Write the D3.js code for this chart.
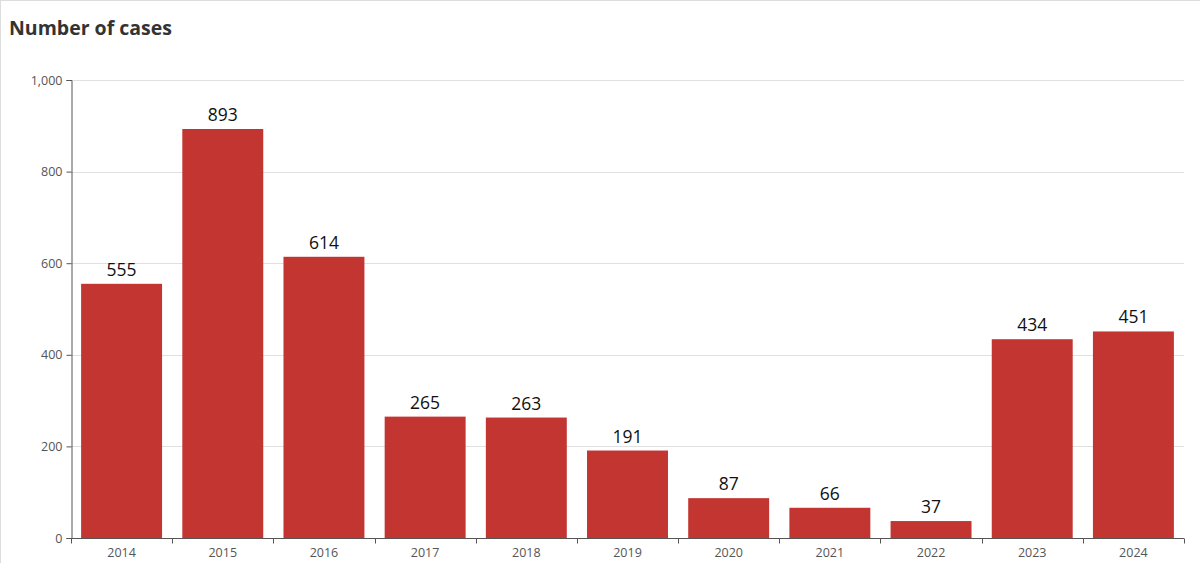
<!DOCTYPE html>
<html><head><meta charset="utf-8">
<script src="https://cdn.jsdelivr.net/npm/d3@7/dist/d3.min.js"></script>
<style>
html,body{margin:0;padding:0;background:#fff;}
svg{display:block;}
</style></head>
<body>
<svg id="chart" width="1200" height="563"></svg>
<script>
const years = ["2014","2015","2016","2017","2018","2019","2020","2021","2022","2023","2024"];
const cases = [555, 893, 614, 265, 263, 191, 87, 66, 37, 434, 451];
const yTicks = [0, 200, 400, 600, 800, 1000];
const title = "Number of cases";

const W = 1200, H = 563;
const m = {left: 71, right: 16, top: 80, bottom: 25};
const svg = d3.select("#chart");
const font = "'Segoe UI','Open Sans','Noto Sans',sans-serif";

// frame
svg.append("line").attr("x1",0).attr("x2",W).attr("y1",0.5).attr("y2",0.5).attr("stroke","#ddd");
svg.append("line").attr("x1",0.5).attr("x2",0.5).attr("y1",0).attr("y2",H).attr("stroke","#ddd");

const x = d3.scaleBand().domain(years).range([m.left, W - m.right]).paddingInner(0.2).paddingOuter(0.1);
const xb = d3.scaleBand().domain(years).range([m.left, W - m.right]);
const y = d3.scaleLinear().domain([0, 1000]).range([H - m.bottom, m.top]);

// gridlines
svg.append("g").selectAll("line").data(yTicks.filter(d => d > 0)).join("line")
  .attr("x1", m.left).attr("x2", W - m.right)
  .attr("y1", d => Math.round(y(d)) + 0.5).attr("y2", d => Math.round(y(d)) + 0.5)
  .attr("stroke", "#e0e0e0");

// bars
svg.append("g").selectAll("rect").data(cases).join("rect")
  .attr("x", (d,i) => x(years[i]))
  .attr("width", x.bandwidth())
  .attr("y", d => y(d))
  .attr("height", d => y(0) - y(d))
  .attr("fill", "#c23531");

// value labels
svg.append("g").selectAll("text").data(cases).join("text")
  .attr("x", (d,i) => x(years[i]) + x.bandwidth()/2)
  .attr("y", d => y(d) - 8)
  .attr("text-anchor", "middle")
  .attr("font-family", font).attr("font-size", 17.5).attr("fill", "#111")
  .text(d => d);

// y axis
const yAxis = d3.axisLeft(y).tickValues(yTicks).tickSize(5).tickPadding(4).tickFormat(d3.format(","));
const gy = svg.append("g").attr("transform", `translate(${m.left + 0.5},0)`).call(yAxis);
gy.select(".domain").attr("stroke", "#555");
gy.selectAll(".tick line").attr("stroke", "#555");
gy.selectAll(".tick text").attr("font-family", font).attr("font-size", 12.5).attr("fill", "#555");

// x axis with boundary ticks
const gx = svg.append("g").attr("transform", `translate(0,${y(0) + 0.5})`);
gx.append("line").attr("x1", m.left).attr("x2", W - m.right).attr("stroke", "#555");
const bounds = years.map(d => xb(d)).concat([W - m.right]);
gx.selectAll("line.tk").data(bounds).join("line").attr("class","tk")
  .attr("x1", d => Math.round(d) + 0.5).attr("x2", d => Math.round(d) + 0.5)
  .attr("y1", 0).attr("y2", 5).attr("stroke", "#555");
gx.selectAll("text").data(years).join("text")
  .attr("x", d => xb(d) + xb.bandwidth()/2)
  .attr("y", 18)
  .attr("text-anchor", "middle")
  .attr("font-family", font).attr("font-size", 12.5).attr("fill", "#555")
  .text(d => d);

// title
svg.append("text").attr("x", 9).attr("y", 35)
  .attr("font-family", font).attr("font-size", 19.5).attr("font-weight", "bold").attr("fill", "#333")
  .text(title);
</script>
</body></html>
